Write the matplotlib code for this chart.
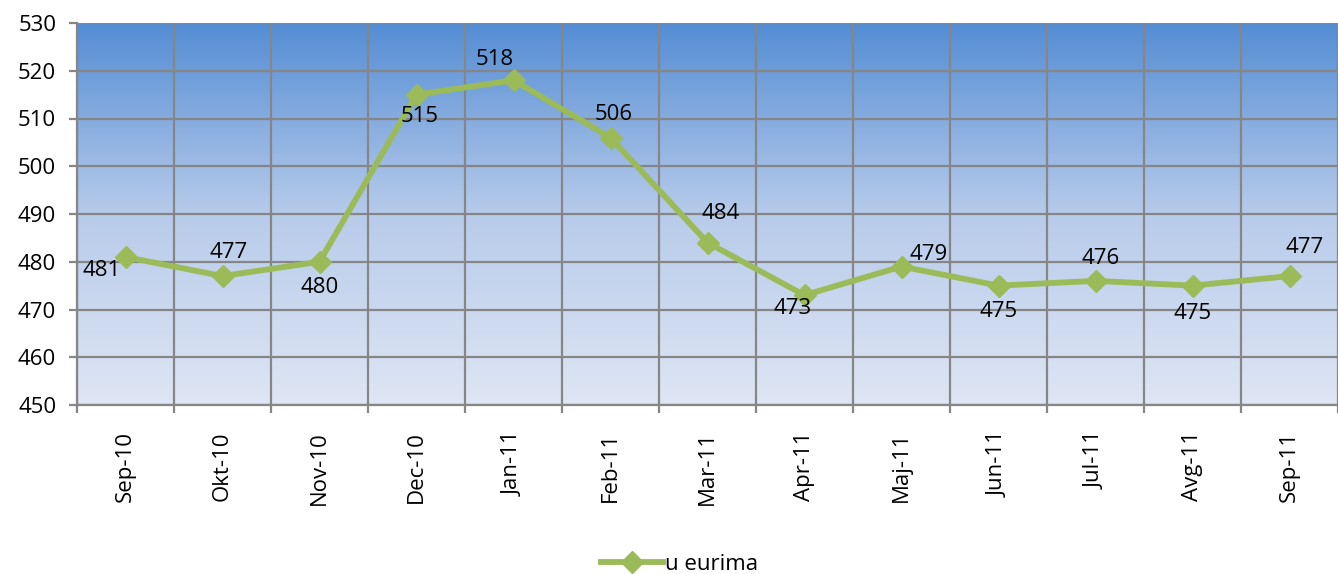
import matplotlib
matplotlib.use("Agg")
import matplotlib.pyplot as plt
import numpy as np
from matplotlib.colors import LinearSegmentedColormap

categories = ["Sep-10", "Okt-10", "Nov-10", "Dec-10", "Jan-11", "Feb-11", "Mar-11",
              "Apr-11", "Maj-11", "Jun-11", "Jul-11", "Avg-11", "Sep-11"]
values = [481, 477, 480, 515, 518, 506, 484, 473, 479, 475, 476, 475, 477]
series_name = "u eurima"
y_ticks = [450, 460, 470, 480, 490, 500, 510, 520, 530]

# label offsets in pixels (dx, dy up)
label_offsets_px = [(-24, -14), (6, 24), (0, -26), (3, -22), (-19, 21), (3, 23), (13, 29),
                    (-12, -13), (27, 12), (0, -26), (5, 22), (0, -28), (15, 29)]

plt.rcParams['font.family'] = ['Open Sans', 'DejaVu Sans']
DPI = 100
FS = 16
fig = plt.figure(figsize=(13.38, 5.74), dpi=DPI)
ax = fig.add_axes([77/1338, 1-405/574, 1-77/1338, (405-23)/574])

x = np.arange(len(categories))
ax.set_xlim(-0.5, len(categories)-0.5)
ax.set_ylim(450, 530)

# gradient background
cmap = LinearSegmentedColormap.from_list("bg", ["#dfe6f4", "#b7cbea", "#548dd4"])
grad = np.linspace(0, 1, 256).reshape(-1, 1)
ax.imshow(grad, cmap=cmap, aspect='auto', extent=[0, 1, 0, 1], origin='lower',
          transform=ax.transAxes, zorder=0)

grid_color = "#868686"
ax.set_yticks(y_ticks)
ax.yaxis.grid(True, color=grid_color, linewidth=1.6, zorder=1)
ax.set_xticks(x)
ax.set_xticklabels(categories, rotation=90, fontsize=FS)
ax.set_xticks(np.arange(-0.5, len(categories), 1), minor=True)
ax.xaxis.grid(True, which='minor', color=grid_color, linewidth=1.6, zorder=1)
ax.tick_params(axis='x', which='major', length=0, pad=19)
ax.tick_params(axis='x', which='minor', length=6, width=1.6, color=grid_color)
ax.tick_params(axis='y', length=6, width=1.6, color=grid_color, labelsize=FS, pad=9)
for s in ['top', 'right']:
    ax.spines[s].set_visible(False)
for s in ['left', 'bottom']:
    ax.spines[s].set_color(grid_color)
    ax.spines[s].set_linewidth(1.6)
ax.set_axisbelow(True)

line_color = "#9bbb59"
ax.plot(x, values, color=line_color, linewidth=4.2, marker='D', markersize=11,
        markerfacecolor=line_color, markeredgecolor=line_color, label=series_name, zorder=3)

for xi, v, (dx, dy) in zip(x, values, label_offsets_px):
    ax.annotate(str(v), (xi, v), xytext=(dx*72/DPI, dy*72/DPI), textcoords='offset points',
                ha='center', va='center', fontsize=FS, color='black', zorder=4)

fig.legend(loc='center', bbox_to_anchor=(0.508, 1-564/574), frameon=False, fontsize=FS,
           handlelength=2.8, handletextpad=0.1)

fig.savefig("out.png", dpi=DPI)
